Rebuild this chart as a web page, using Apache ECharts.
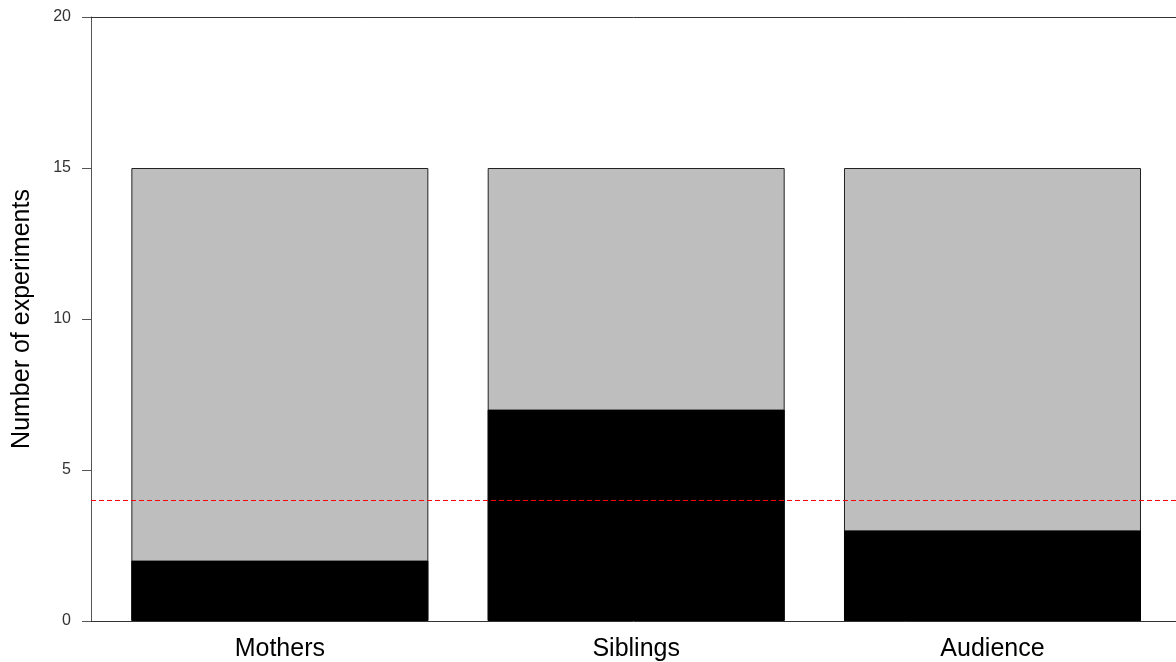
<!DOCTYPE html>
<html>
<head>
<meta charset="utf-8">
<script src="https://cdn.jsdelivr.net/npm/echarts@6/dist/echarts.min.js"></script>
<style>
html,body{margin:0;padding:0;background:#fff;}
#main{width:1176px;height:662px;}
</style>
</head>
<body>
<div id="main"></div>
<script>
const categories = ['Mothers', 'Siblings', 'Audience'];
const blackValues = [2, 7, 3];
const greyValues = [13, 8, 12];
const referenceLine = 4;
const yTicks = [0, 5, 10, 15, 20];

// R barplot layout: width 1, space 0.2
const positions = categories.map((c, i) => 0.7 + 1.2 * i);
const totals = blackValues.map((v, i) => v + greyValues[i]);
const fontFamily = '"Liberation Sans", Arial, sans-serif';

const chart = echarts.init(document.getElementById('main'));
chart.setOption({
  animation: false,
  backgroundColor: '#ffffff',
  grid: { left: 91, right: 0, top: 17, bottom: 41 },
  xAxis: [{
    type: 'value',
    min: 0.064,
    max: 3.718,
    axisLine: { show: true, lineStyle: { color: '#333', width: 1 } },
    axisTick: { show: false },
    splitLine: { show: false },
    axisLabel: {
      customValues: positions,
      formatter: function (v) {
        const i = positions.findIndex(p => Math.abs(p - v) < 1e-6);
        return i >= 0 ? categories[i] : '';
      },
      color: '#000',
      fontSize: 25,
      fontFamily: fontFamily,
      margin: 16
    }
  }, {
    type: 'value',
    position: 'top',
    min: 0.064,
    max: 3.718,
    axisLine: { show: true, lineStyle: { color: '#333', width: 1 } },
    axisTick: { show: false },
    axisLabel: { show: false },
    splitLine: { show: false }
  }],
  yAxis: {
    type: 'value',
    min: yTicks[0],
    max: yTicks[yTicks.length - 1],
    interval: 5,
    name: 'Number of experiments',
    nameLocation: 'middle',
    nameGap: 56,
    nameTextStyle: { color: '#000', fontSize: 25, fontFamily: fontFamily },
    axisLine: { show: true, lineStyle: { color: '#555', width: 1 } },
    axisTick: { show: true, length: 9, inside: false, lineStyle: { color: '#555' } },
    axisLabel: { color: '#333', fontSize: 16, fontFamily: fontFamily, margin: 20 },
    splitLine: { show: false }
  },
  series: [{
    type: 'bar',
    barWidth: 297,
    xAxisIndex: 0,
    data: totals.map((v, i) => [positions[i], v]),
    itemStyle: { color: '#BEBEBE', borderColor: '#222', borderWidth: 1 }
  }, {
    type: 'bar',
    barWidth: 297,
    barGap: '-100%',
    xAxisIndex: 0,
    data: blackValues.map((v, i) => [positions[i], v]),
    itemStyle: { color: '#000000', borderColor: '#000', borderWidth: 1 },
    markLine: {
      silent: true,
      symbol: 'none',
      label: { show: false },
      lineStyle: { color: '#ff0000', type: [5, 3], width: 1 },
      data: [{ yAxis: referenceLine }]
    }
  }]
});
</script>
</body>
</html>
